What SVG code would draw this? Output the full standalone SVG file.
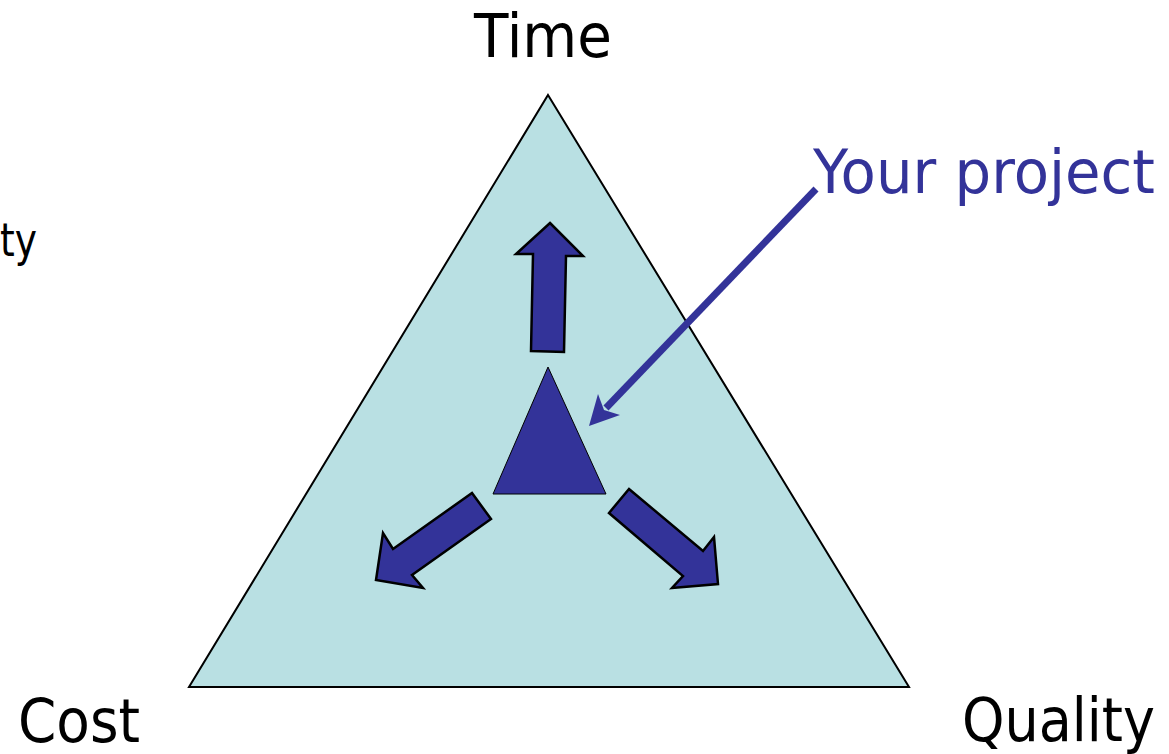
<svg xmlns="http://www.w3.org/2000/svg" width="1169" height="754" viewBox="0 0 1169 754">
<style>
.lbl{font-family:"DejaVu Sans",Verdana,sans-serif;font-size:60px;fill:#000}
.blue{fill:#333399}
.arr{fill:#333399;stroke:#000;stroke-width:2.5;stroke-linejoin:miter}
</style>
<rect width="1169" height="754" fill="#fff"/>
<g id="outer-triangle">
<polygon points="548,95 909,687 189,687" fill="#B9E0E3" stroke="#000" stroke-width="2"/>
</g>
<g id="inner-triangle">
<polygon points="548,367 606,494 493,494" fill="#333399" stroke="#000" stroke-width="1"/>
</g>
<g id="arrow-up">
<polygon class="arr" points="550,223 583,256 566,256 564,352 531,351 533,254 516,254"/>
</g>
<g id="arrow-left">
<polygon class="arr" points="472,493 491,519 412,575 423,588 376,580 383,533 393,549"/>
</g>
<g id="arrow-right">
<polygon class="arr" points="629,489 703,551 714,537 718,584 672,588 683,576 609,513"/>
</g>
<g id="connectors">
<line x1="816" y1="189" x2="606" y2="408" stroke="#333399" stroke-width="7"/>
<polygon points="589,426 598,394 604,410 620,415" fill="#333399"/>
</g>
<g id="label-time"><text class="lbl" x="474" y="57" textLength="138" lengthAdjust="spacingAndGlyphs">Time</text></g>
<g id="label-cost"><text class="lbl" x="18" y="742" textLength="122" lengthAdjust="spacingAndGlyphs">Cost</text></g>
<g id="label-quality"><text class="lbl" x="962" y="741" textLength="193" lengthAdjust="spacingAndGlyphs">Quality</text></g>
<g id="label-project"><text class="lbl blue" x="813" y="193" textLength="342" lengthAdjust="spacingAndGlyphs">Your project</text></g>
<g id="label-ty"><text class="lbl" x="0" y="256" style="font-size:47px" textLength="37" lengthAdjust="spacingAndGlyphs">ty</text></g>
</svg>
